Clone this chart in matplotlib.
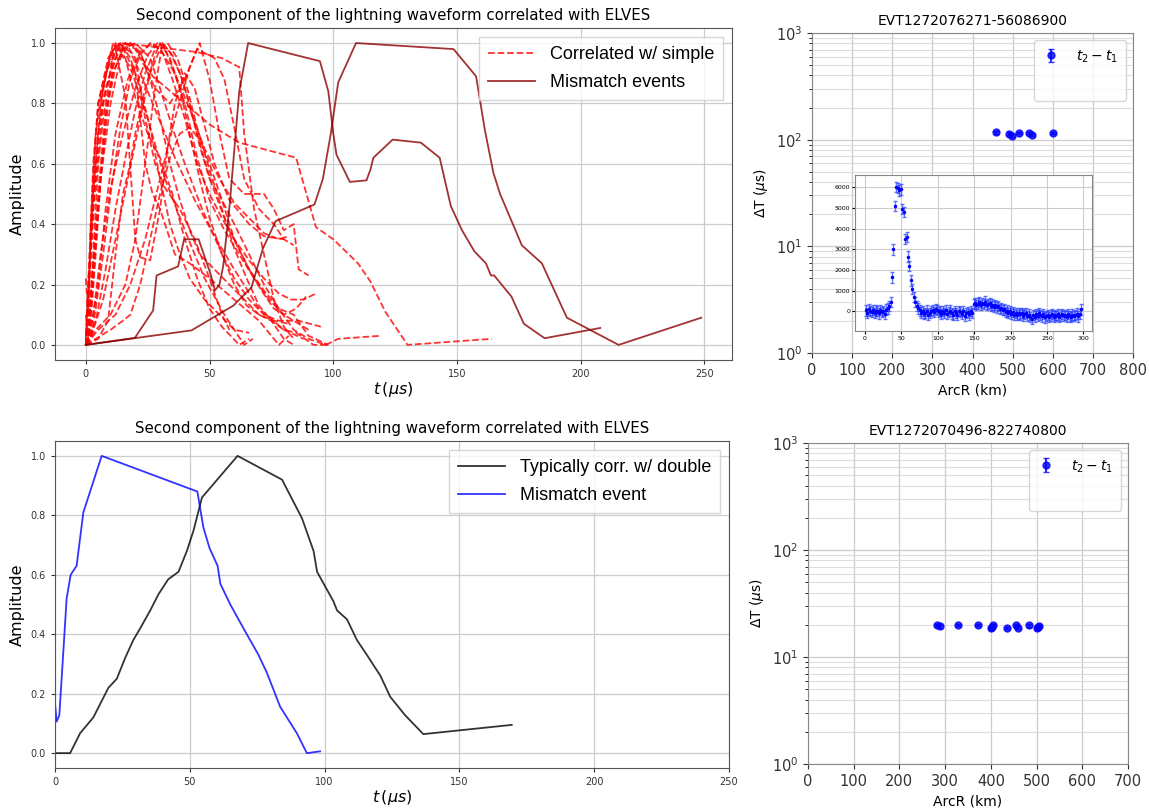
import numpy as np
import matplotlib
matplotlib.use("Agg")
import matplotlib.pyplot as plt

# --- waveforms (t in us, normalised amplitude) ---
corr_simple = [
    [(0, 0), (2, 0.3), (4, 0.6), (7, 0.85), (11, 1.0), (18, 0.92), (25, 0.75), (32, 0.55), (40, 0.38), (48, 0.22), (56, 0.1), (64, 0.0), (67.5, 0.02)],
    [(0, 0.02), (3, 0.5), (6, 0.8), (10, 0.97), (14, 1.0), (20, 0.9), (24, 0.6), (27, 0.5), (30, 0.45), (36, 0.3), (42, 0.27), (50, 0.22), (60, 0.15), (70, 0.08), (78, 0.0), (82, 0.03)],
    [(0, 0), (3, 0.45), (7, 0.8), (12, 0.98), (16, 0.82), (20, 0.35), (22, 0.29), (26, 0.28), (30, 0.45), (33, 0.65), (36, 0.8), (40, 0.9), (44, 0.85), (52, 0.6), (58, 0.48), (66, 0.4), (72, 0.36), (80, 0.35)],
    [(0, 0), (1, 0.2), (3, 0.55), (5, 0.8), (9, 0.95), (13, 1.0), (18, 0.97), (22, 0.9), (28, 0.78), (36, 0.62), (44, 0.48), (52, 0.36), (60, 0.25), (70, 0.12), (80, 0.05), (88, 0.02)],
    [(0, 0), (3, 0.25), (6, 0.55), (10, 0.8), (14, 0.95), (18, 1.0), (22, 0.96), (27, 0.89), (40, 0.8), (50, 0.73), (62, 0.67), (85, 0.62), (93, 0.39), (100, 0.35), (110, 0.27), (115, 0.21), (121, 0.11), (130, 0.0), (164, 0.02)],
    [(0, 0), (5, 0.05), (12, 0.1), (18, 0.2), (24, 0.35), (30, 0.55), (36, 0.75), (42, 0.92), (46, 1.0), (50, 0.88), (54, 0.7), (58, 0.55), (64, 0.5), (72, 0.5), (76, 0.45), (80, 0.38), (84, 0.4), (86, 0.25), (90, 0.23)],
    [(0, 0), (2, 0.15), (5, 0.5), (8, 0.78), (11, 0.9), (15, 0.98), (20, 1.0), (26, 0.95), (30, 0.85), (35, 0.72), (40, 0.6), (47, 0.45), (54, 0.32), (60, 0.22), (66, 0.15), (72, 0.1), (78, 0.08), (86, 0.08), (95, 0.06)],
    [(0, 0), (3, 0.1), (6, 0.3), (10, 0.52), (15, 0.7), (20, 0.85), (25, 0.96), (29, 1.0), (34, 0.97), (38, 0.9), (42, 0.8), (46, 0.66), (50, 0.55), (55, 0.48), (60, 0.4), (66, 0.3), (72, 0.2), (78, 0.12), (84, 0.05), (90, 0.02), (97, 0.0), (102, 0.02), (119, 0.03)],
    [(0, 0), (2, 0.05), (5, 0.2), (8, 0.45), (12, 0.7), (17, 0.88), (22, 0.97), (27, 1.0), (31, 0.97), (35, 0.88), (40, 0.75), (45, 0.6), (50, 0.5), (55, 0.42), (60, 0.35), (66, 0.28), (72, 0.22), (78, 0.17), (83, 0.15), (88, 0.15), (93, 0.17)],
    [(0, 0.22), (1, 0.1), (2, 0.4), (4, 0.7), (6, 0.82), (9, 0.93), (12, 1.0), (16, 0.95), (20, 0.82), (25, 0.7), (30, 0.62), (35, 0.5), (40, 0.35), (45, 0.22), (50, 0.12), (55, 0.06), (62, 0.0), (66, 0.02)],
    [(0, 0), (3, 0.05), (7, 0.15), (12, 0.35), (17, 0.55), (22, 0.75), (26, 0.9), (30, 0.98), (33, 1.0), (37, 0.95), (41, 0.85), (45, 0.72), (50, 0.58), (55, 0.45), (60, 0.32), (65, 0.22), (70, 0.13), (75, 0.08), (80, 0.05), (85, 0.04), (92, 0.0), (98, 0.0)],
    [(0, 0), (4, 0.05), (10, 0.1), (16, 0.2), (20, 0.35), (24, 0.6), (28, 0.85), (31, 1.0), (35, 0.92), (40, 0.8), (45, 0.62), (50, 0.48), (56, 0.38), (62, 0.3), (68, 0.22), (74, 0.15), (80, 0.1), (86, 0.07), (90, 0.05)],
    [(0, 0), (1, 0.15), (3, 0.45), (5, 0.7), (8, 0.85), (12, 0.95), (16, 1.0), (20, 0.98), (24, 0.92), (28, 0.85), (34, 0.8), (40, 0.88), (45, 0.98), (52, 0.95), (56, 0.88), (60, 0.72), (64, 0.55), (70, 0.45), (76, 0.4), (80, 0.35), (84, 0.33)],
    [(0, 0), (5, 0.02), (9, 0.08), (12, 0.3), (15, 0.5), (18, 0.6), (20, 0.7), (24, 0.85), (28, 0.96), (30, 1.0), (34, 0.95), (38, 0.85), (42, 0.7), (46, 0.55), (50, 0.42), (55, 0.3), (60, 0.2), (65, 0.13), (70, 0.1), (75, 0.08), (80, 0.02), (84, 0.0)],
    [(0, 0), (6, 0.03), (10, 0.05), (15, 0.08), (18, 0.1), (22, 0.2), (26, 0.35), (30, 0.5), (34, 0.62), (38, 0.7), (42, 0.72), (46, 0.68), (50, 0.6), (55, 0.48), (60, 0.35), (66, 0.25), (72, 0.18), (78, 0.12), (84, 0.1), (90, 0.03), (98, 0.0)],
    [(0, 0), (2, 0.08), (4, 0.3), (6, 0.55), (9, 0.8), (12, 0.92), (15, 0.98), (18, 1.0), (22, 0.97), (26, 0.88), (30, 0.75), (34, 0.6), (38, 0.48), (42, 0.38), (46, 0.3), (52, 0.25), (58, 0.2), (64, 0.15), (70, 0.1), (76, 0.08), (82, 0.07)],
    [(0, 0.1), (1, 0.02), (3, 0.3), (5, 0.6), (7, 0.75), (9, 0.85), (11, 0.97), (14, 1.0), (18, 0.95), (22, 0.85), (26, 0.72), (30, 0.55), (34, 0.4), (38, 0.3), (42, 0.22), (48, 0.15), (54, 0.1), (60, 0.05), (66, 0.04)],
    [(0, 0), (2, 0.02), (4, 0.12), (7, 0.3), (10, 0.5), (14, 0.72), (18, 0.88), (22, 0.96), (26, 1.0), (30, 0.98), (36, 0.9), (42, 0.78), (48, 0.65), (54, 0.55), (60, 0.47), (66, 0.42), (72, 0.37), (78, 0.35), (82, 0.36)],
    [(0, 0), (2, 0.1), (5, 0.45), (8, 0.75), (11, 0.92), (14, 1.0), (25, 0.99), (35, 0.98), (45, 0.97), (55, 0.95), (62, 0.92), (64, 0.7), (68, 0.45), (72, 0.3), (76, 0.15), (80, 0.06), (84, 0.02)],
    [(0, 0), (1, 0.2), (3, 0.6), (5, 0.8), (8, 0.9), (12, 0.97), (16, 1.0), (20, 0.95), (24, 0.75), (28, 0.6), (32, 0.52), (38, 0.45), (44, 0.35), (50, 0.22), (55, 0.1), (58, 0.05)],
    [(0, 0), (4, 0.08), (8, 0.25), (12, 0.45), (16, 0.62), (20, 0.78), (24, 0.9), (28, 0.98), (31, 1.0), (35, 0.96), (39, 0.88), (43, 0.76), (47, 0.64), (51, 0.53), (56, 0.42), (61, 0.33), (66, 0.25), (71, 0.18), (76, 0.12), (80, 0.1), (85, 0.12), (89, 0.16)],
]

mismatch_events = [
    [(0, 0), (19.8, 0.023), (27.2, 0.114), (28.6, 0.23), (37.3, 0.26), (39.7, 0.35), (45.6, 0.35), (50.4, 0.235), (52.2, 0.18), (54, 0.2), (55.5, 0.26), (58.2, 0.47), (62, 0.84), (65.6, 1.0), (94.6, 0.94), (98, 0.84), (100, 0.7), (101.3, 0.63), (106.7, 0.54), (113.4, 0.545), (115, 0.58), (116.2, 0.62), (124, 0.68), (135.4, 0.67), (143, 0.62), (147.5, 0.46), (152, 0.38), (157, 0.31), (161.7, 0.27), (163.7, 0.23), (165, 0.23), (172, 0.16), (177, 0.07), (185.4, 0.022), (207.9, 0.056)],
    [(0, 0), (42.7, 0.048), (59.6, 0.13), (66.9, 0.19), (71.6, 0.32), (76.7, 0.41), (92.4, 0.465), (95.8, 0.55), (99, 0.7), (102, 0.87), (109.2, 1.0), (148.6, 0.98), (157.7, 0.89), (161.3, 0.71), (164.7, 0.57), (167.4, 0.5), (176.2, 0.33), (184.3, 0.27), (194.4, 0.09), (215.3, 0.0), (248.7, 0.09)],
]

typical_double = [(0, 0), (5.6, 0), (9.3, 0.067), (14.2, 0.12), (19.8, 0.22), (22.9, 0.25), (26, 0.32), (29, 0.38), (31.6, 0.42), (35.3, 0.48), (38.4, 0.535), (42, 0.585), (45.8, 0.61), (48.9, 0.68), (51.4, 0.75), (54.5, 0.86), (67.7, 1.0), (84.2, 0.92), (91.6, 0.79), (95.9, 0.68), (97.2, 0.61), (103.3, 0.51), (104.6, 0.48), (108.3, 0.45), (112, 0.38), (115.7, 0.33), (120.7, 0.26), (124.3, 0.19), (129.8, 0.128), (136.6, 0.064), (169.4, 0.095)]
mismatch_single = [(0, 0.167), (0.6, 0.106), (1.6, 0.128), (3.1, 0.345), (4.3, 0.52), (5.8, 0.6), (8, 0.63), (10.5, 0.81), (17.3, 1.0), (52.8, 0.88), (55, 0.76), (57.3, 0.69), (60.3, 0.63), (61.3, 0.57), (65, 0.5), (70.5, 0.41), (75.5, 0.33), (78.6, 0.27), (83.5, 0.156), (89.7, 0.067), (93.4, 0), (98.3, 0.006)]

# --- time delays vs arc distance ---
evt1_title = "EVT1272076271-56086900"
evt1_arcr = [459, 492, 498, 515, 542, 548, 600]
evt1_dt = [117, 114, 109, 116, 115, 111, 116]
evt1_err = [3, 3, 3, 3, 3, 3, 3]

evt2_title = "EVT1272070496-822740800"
evt2_arcr = [283, 289, 328, 373, 400, 402, 405, 435, 456, 460, 484, 501, 503, 506]
evt2_dt = [19.8, 19.3, 19.8, 19.8, 18.5, 19.2, 20.0, 18.6, 19.8, 18.8, 19.7, 18.5, 19.2, 19.6]
evt2_err = [0.5] * len(evt2_dt)

# inset profile, one value every 2 units starting at 1
inset_val = [
    50, -80, 100, 20, -30, 80, -60, 40, 10, -90, 60, -40, 30, -100, 90,
    150, 250, 450, 1650, 3000, 5100, 6000, 5950, 5850, 5900, 4950, 4800, 3500, 3600, 2650,
    2200, 1500, 1100, 700, 450, 250, 150, 50, -50, 30, -120, -80, 40, -150, -60,
    10, 80, -20, 120, 60, -40, 30, -110, 20, -60, 70, -130, -20, 40, -90,
    -150, 10, -70, -180, 20, -40, -120, 30, -200, -60, -10, -140, 10, -80, 350,
    420, 300, 380, 450, 320, 400, 350, 480, 300, 370, 420, 260, 330, 240, 300,
    200, 250, 120, 180, 60, 100, -20, 40, -60, 10, -100, -40, -150, -70, -180,
    -90, -140, -60, -200, -120, -80, -230, -150, -280, -350, -180, -250, -120, -200, -60,
    -170, -240, -130, -290, -210, -160, -260, -190, -120, -250, -170, -220, -140, -270, -190,
    -110, -230, -160, -250, -130, -210, -270, -150, -230, -180, -100, -240, -130, 100,
]
inset_err = 250

fig = plt.figure(figsize=(11.49, 8.08), dpi=100)
legend_font = {"family": "Liberation Sans", "size": 13}


def style_wave_axes(ax):
    ax.grid(True, color="#cccccc", linewidth=0.9)
    ax.tick_params(labelsize=7, colors="#333333", length=3)
    for s in ax.spines.values():
        s.set_color("#555555")
    ax.set_ylabel("Amplitude", fontsize=11.5)
    ax.set_xlabel(r"$t\,(\mu s)$", fontsize=11.5, labelpad=1)
    ax.set_title("Second component of the lightning waveform correlated with ELVES", fontsize=10.8)


# top left: correlated vs mismatch
ax1 = fig.add_axes([0.0479, 0.5545, 0.5892, 0.4109])
for i, curve in enumerate(corr_simple):
    t, a = zip(*curve)
    ax1.plot(t, a, "--", color="red", alpha=0.8, lw=1.3,
             label="Correlated w/ simple" if i == 0 else None)
for i, curve in enumerate(mismatch_events):
    t, a = zip(*curve)
    ax1.plot(t, a, "-", color="darkred", alpha=0.8, lw=1.3,
             label="Mismatch events" if i == 0 else None)
style_wave_axes(ax1)
ax1.legend(loc="upper right", prop=legend_font, handlelength=2.6, fancybox=False,
           edgecolor="#cccccc", borderpad=0.5, labelspacing=0.6)

# bottom left: typical double vs mismatch
ax2 = fig.add_axes([0.0479, 0.0495, 0.5866, 0.4047])
t, a = zip(*typical_double)
ax2.plot(t, a, color="black", alpha=0.8, lw=1.3, label="Typically corr. w/ double")
t, a = zip(*mismatch_single)
ax2.plot(t, a, color="blue", alpha=0.8, lw=1.3, label="Mismatch event")
ax2.set_xlim(0, 250)
style_wave_axes(ax2)
ax2.legend(loc="upper right", prop=legend_font, handlelength=2.6, fancybox=False,
           edgecolor="#cccccc", borderpad=0.5, labelspacing=0.6)


def style_delay_axes(ax, title, xmax, points):
    ax.set_yscale("log")
    ax.set_ylim(1, 1000)
    ax.set_xlim(0, xmax)
    ax.set_xticks(np.arange(0, xmax + 1, 100))
    ax.grid(True, which="major", color="#cccccc", linewidth=0.9)
    ax.grid(True, which="minor", axis="y", color="#dddddd", linewidth=0.8)
    ax.tick_params(labelsize=10.5, colors="#333333")
    for s in ax.spines.values():
        s.set_color("#888888")
    ax.set_xlabel("ArcR (km)", fontsize=10)
    ax.set_ylabel(r"$\Delta$T ($\mu$s)", fontsize=10)
    ax.set_title(title, fontsize=10)
    blank, = ax.plot([], [], " ")
    ax.legend([points, blank], [r"$t_2 - t_1$", " "], loc="upper right", fontsize=10,
              handlelength=1.2, labelspacing=1.0, borderpad=0.6, handletextpad=1.2)


# top right: event 1 with inset profile
ax3 = fig.add_axes([0.7067, 0.5631, 0.2794, 0.396])
pts = ax3.errorbar(evt1_arcr, evt1_dt, yerr=evt1_err, fmt="o", color="blue", alpha=0.8,
                   markersize=5, capsize=2)
style_delay_axes(ax3, evt1_title, 800, pts)

axin = fig.add_axes([855 / 1149, 1 - 331 / 808, 237 / 1149, 156 / 808])
inset_x = np.arange(1, 2 * len(inset_val), 2)
axin.errorbar(inset_x, inset_val, yerr=inset_err, fmt=".", color="blue", markersize=3,
              ecolor=(0.1, 0.2, 1.0, 0.65), elinewidth=1, capsize=1.5)
axin.grid(True, color="#cccccc", linewidth=0.8)
axin.tick_params(labelsize=4.5, length=2, pad=1.5)
for s in axin.spines.values():
    s.set_color("#888888")

# bottom right: event 2
ax4 = fig.add_axes([0.7032, 0.0545, 0.2785, 0.3973])
pts = ax4.errorbar(evt2_arcr, evt2_dt, yerr=evt2_err, fmt="o", color="blue", alpha=0.8,
                   markersize=5, capsize=2)
style_delay_axes(ax4, evt2_title, 700, pts)

fig.savefig("out.png", dpi=100)
